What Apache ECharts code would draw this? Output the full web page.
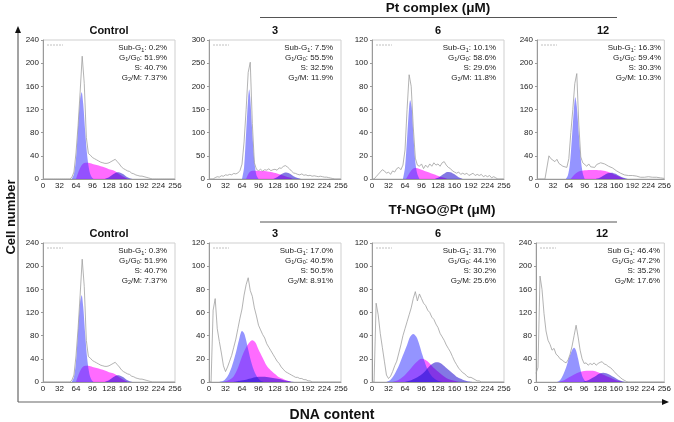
<!DOCTYPE html>
<html><head><meta charset="utf-8">
<script src="https://cdn.jsdelivr.net/npm/echarts@6/dist/echarts.min.js"></script>
<style>html,body{margin:0;padding:0;background:#fff}#c{width:674px;height:422px}</style>
</head><body><div id="c"></div>
<script>
// ---- data ----
const panelTitles = ['Control','3','6','12','Control','3','6','12'];
const subLabel = ['Sub-G','Sub-G','Sub-G','Sub-G','Sub-G','Sub-G','Sub-G','Sub G'];
const subG1 = ['0.2%','7.5%','10.1%','16.3%','0.3%','17.0%','31.7%','46.4%'];
const g1g0 = ['51.9%','55.5%','58.6%','59.4%','51.9%','40.5%','44.1%','47.2%'];
const sPhase = ['40.7%','32.5%','29.6%','30.3%','40.7%','50.5%','30.2%','35.2%'];
const g2m = ['7.37%','11.9%','11.8%','10.3%','7.37%','8.91%','25.6%','17.6%'];
const yMax = [240,300,120,240,240,120,120,240];
const yStep = [40,50,20,40,40,20,20,40];
const xTickStep = 32;
const binWidth = 4; // histogram channels 0..256

const hist1 = [0,0,0,0,0,0,0,0,0,0,0,0,0,0,3,12,45,92,150,212,165,72,44,41,37,35,33,31,29,28,27,27,28,30,32,34,30,26,21,18,16,14,13,10,9,7,6,5,5,4,3,2,1,0,0,0,0,0,0,0,0,0,0,0,0];
const hist2 = [0,0,0,3,5,4,7,6,9,8,10,9,12,11,13,18,32,80,150,230,252,120,35,21,18,21,17,20,19,22,18,20,21,19,24,23,27,29,26,22,17,13,12,10,9,11,8,9,7,8,6,7,6,5,6,5,4,4,3,2,1,0,0,0,0];
const hist3 = [0,0,2,4,6,8,7,5,6,4,7,6,9,10,8,12,25,60,90,80,45,18,12,11,13,9,12,10,13,11,14,12,13,11,14,15,12,10,9,7,6,5,6,4,5,4,5,3,4,5,3,4,3,4,2,3,2,3,1,2,1,0,0,0,0];
const hist4 = [0,0,0,0,0,0,40,35,38,30,34,27,28,22,24,20,35,80,120,165,182,95,38,28,25,22,26,21,24,20,25,23,28,30,26,27,22,24,19,17,14,12,10,9,7,8,6,5,6,4,5,4,3,4,3,3,4,2,3,2,3,2,2,1,1];
const hist5 = [0,0,0,0,0,0,0,0,0,0,0,0,0,0,3,12,45,92,150,212,165,72,44,41,37,35,33,31,29,28,27,27,28,30,32,34,30,26,21,18,16,14,13,10,9,7,6,5,5,4,3,2,1,0,0,0,0,0,0,0,0,0,0,0,0];
const hist6 = [0,0,62,72,46,35,25,14,9,13,18,23,30,37,46,55,63,75,84,90,79,74,64,57,49,45,41,38,33,30,27,24,21,18,16,13,11,9,8,7,6,5,4,4,3,3,2,2,1,1,0,0,0,0,0,0,0,0,0,0,0,0,0,0,0];
const hist7 = [0,0,68,58,42,30,18,6,3,5,9,14,18,25,32,40,46,52,58,64,72,78,70,76,72,68,66,62,60,56,54,50,47,42,39,36,32,29,26,22,18,15,12,10,8,7,5,4,4,3,2,1,1,0,0,0,0,0,0,0,0,0,0,0,0];
const hist8 = [15,25,183,160,118,88,72,65,55,58,48,45,40,38,35,33,38,48,62,80,98,78,55,40,32,33,29,32,30,33,29,32,34,35,31,30,27,25,22,18,14,11,8,5,3,1,0,0,0,0,0,0,0,0,0,0,0,0,0,0,0,0,0,0,0];

const g1_1 = [[56,0],[60,8],[64,35],[68,90],[72,138],[75,150],[78,130],[82,80],[86,38],[90,14],[94,4],[98,0]];
const s_1 = [[64,0],[70,15],[76,25],[82,28],[88,28],[96,26],[104,24],[112,22],[120,20],[128,17],[136,15],[144,11],[152,6],[158,3],[164,0]];
const g2_1 = [[120,0],[128,3],[136,8],[144,11.5],[150,11],[156,8],[162,4],[168,1.5],[174,0]];
const g1_2 = [[64,0],[68,25],[72,100],[76,175],[78,193],[80,175],[84,100],[88,38],[92,8],[96,0]];
const s_2 = [[72,0],[78,14],[84,18],[96,18],[108,17],[120,15],[132,12],[140,9],[148,6],[156,3],[162,0]];
const g2_2 = [[124,0],[132,4],[140,10],[148,14],[156,12],[164,6],[172,2],[178,0]];
const g1_3 = [[60,0],[64,10],[68,35],[72,62],[74,68],[77,62],[80,40],[84,15],[88,4],[92,0]];
const s_3 = [[66,0],[74,6],[80,9],[86,9.5],[96,8],[108,6],[120,4],[132,2],[140,1],[146,0]];
const g2_3 = [[122,0],[130,1.5],[138,4],[146,6],[152,5.8],[160,4],[168,1.5],[176,0]];
const g1_4 = [[58,0],[62,6],[66,25],[70,68],[74,118],[77,141],[80,125],[84,78],[88,35],[92,10],[96,0]];
const s_4 = [[68,0],[76,8],[84,13],[96,15],[112,15.5],[128,15],[140,13],[150,10],[160,6],[168,3],[176,0]];
const g2_4 = [[118,0],[126,2],[134,6],[142,10],[150,11],[158,9],[166,5],[174,2],[182,0]];
const g1_5 = [[56,0],[60,8],[64,35],[68,90],[72,138],[75,150],[78,130],[82,80],[86,38],[90,14],[94,4],[98,0]];
const s_5 = [[64,0],[70,15],[76,25],[82,28],[88,28],[96,26],[104,24],[112,22],[120,20],[128,17],[136,15],[144,11],[152,6],[158,3],[164,0]];
const g2_5 = [[120,0],[128,3],[136,8],[144,11.5],[150,11],[156,8],[162,4],[168,1.5],[174,0]];
const g1_6 = [[20,0],[28,1],[36,5],[44,13],[52,25],[58,36],[64,44],[68,42],[72,36],[76,28],[82,17],[88,9],[94,4],[100,1],[106,0]];
const s_6 = [[28,0],[40,2],[48,5],[56,12],[64,22],[72,30],[80,35],[84,36],[90,34],[96,28],[104,21],[112,14],[120,10],[128,7],[136,4],[144,2.5],[152,1],[160,0]];
const g2_6 = [[48,0],[60,1],[72,2],[84,3.5],[96,4.5],[104,4.6],[112,4.3],[124,3.5],[136,2.5],[148,1.2],[160,0.3],[168,0]];
const g1_7 = [[28,0],[36,2],[44,7],[52,14],[60,23],[68,32],[74,39],[80,41.5],[86,39],[92,32],[98,23],[104,15],[110,9],[116,5],[124,2],[132,0.5],[140,0]];
const s_7 = [[40,0],[52,2],[64,6],[76,12],[86,17],[96,20],[104,19],[112,16],[120,12],[128,9],[136,6],[144,3.5],[152,2],[160,1],[168,0]];
const g2_7 = [[64,0],[76,1.5],[88,4],[100,8],[110,13],[118,16],[126,17],[134,16],[142,13],[150,10],[158,7],[166,4],[176,2],[188,0.5],[198,0]];
const g1_8 = [[42,0],[48,3],[54,12],[60,25],[66,42],[72,55],[76,59],[80,54],[84,40],[88,24],[92,11],[96,4],[100,0]];
const s_8 = [[46,0],[56,3],[66,8],[76,13],[86,17],[96,19],[106,19.5],[116,19],[126,16],[136,12],[146,8],[156,4.5],[164,2],[172,0]];
const g2_8 = [[94,0],[104,3],[112,7],[120,11],[128,15],[134,16],[140,15],[148,12],[156,8],[164,4],[172,1.5],[180,0]];

const hists = [hist1,hist2,hist3,hist4,hist5,hist6,hist7,hist8];
const g1s = [g1_1,g1_2,g1_3,g1_4,g1_5,g1_6,g1_7,g1_8];
const ss = [s_1,s_2,s_3,s_4,s_5,s_6,s_7,s_8];
const g2s = [g2_1,g2_2,g2_3,g2_4,g2_5,g2_6,g2_7,g2_8];

// ---- layout ----
const FONT = 'Liberation Sans, Arial, Helvetica, sans-serif';
const lefts = [[43,209,372,537],[43,209,372,536]];
const tops = [40,243];
const W = 132, H = 139;

const grid = [], xAxis = [], yAxis = [], series = [], graphic = [];
const rich = {
  a:{fontSize:8, fontFamily:FONT, fill:'#222', lineHeight:10},
  s:{fontSize:5.5, fontFamily:FONT, fill:'#222', lineHeight:6, verticalAlign:'bottom'}
};
for (let i=0;i<8;i++){
  const row = i<4?0:1, col = i%4;
  const L = lefts[row][col], T = tops[row];
  grid.push({left:L, top:T, width:W, height:H, show:true, borderColor:'#cfcfcf', borderWidth:1, backgroundColor:'transparent'});
  xAxis.push({gridIndex:i, type:'value', min:0, max:256, interval:xTickStep,
    axisLine:{show:true, onZero:false, lineStyle:{color:'#9a9a9a', width:1}}, axisTick:{show:false}, splitLine:{show:false},
    axisLabel:{fontSize:8, color:'#222', margin:3, fontFamily:FONT}});
  yAxis.push({gridIndex:i, type:'value', min:0, max:yMax[i], interval:yStep[i],
    axisLine:{show:true, lineStyle:{color:'#9a9a9a', width:1}}, axisTick:{show:true, length:2, lineStyle:{color:'#9a9a9a'}}, splitLine:{show:false},
    axisLabel:{fontSize:8, color:'#222', margin:4, fontFamily:FONT}});
  const comp = (data, color, z) => ({type:'line', xAxisIndex:i, yAxisIndex:i, data, smooth:0.3, symbol:'none', silent:true, z,
    lineStyle:{width:0, color}, areaStyle:{color, opacity:1}});
  series.push(comp(ss[i], 'rgba(255,0,255,0.58)', 2));
  series.push(comp(g1s[i], 'rgba(60,60,255,0.55)', 3));
  series.push(comp(g2s[i], 'rgba(30,10,205,0.55)', 4));
  series.push({type:'line', xAxisIndex:i, yAxisIndex:i, data: hists[i].map((v,k)=>[k*binWidth, v]), symbol:'none', silent:true, z:5,
    lineStyle:{color:'#a0a0a0', width:0.8}});
  graphic.push({type:'text', x:L+W/2, y:T-9, style:{text:panelTitles[i], font:'bold 11px '+FONT, fill:'#111', align:'center', verticalAlign:'middle'}});
  const R = L+W-8;
  const lines = [
    '{a|'+subLabel[i]+'}{s|1}{a|: '+subG1[i]+'}',
    '{a|G}{s|1}{a|/G}{s|0}{a|: '+g1g0[i]+'}',
    '{a|S: '+sPhase[i]+'}',
    '{a|G}{s|2}{a|/M: '+g2m[i]+'}'
  ];
  lines.forEach((t,k)=>{
    graphic.push({type:'text', x:R, y:T+8+k*9.8, style:{text:t, rich, align:'right', verticalAlign:'middle', fill:'#222', font:'8px '+FONT}});
  });
  graphic.push({type:'line', shape:{x1:L+4, y1:T+5, x2:L+20, y2:T+5}, style:{stroke:'#b0b0b0', lineWidth:0.8, lineDash:[2,1]}});
}

graphic.push({type:'text', x:438, y:8, style:{text:'Pt complex (μM)', font:'bold 13.5px '+FONT, fill:'#111', align:'center', verticalAlign:'middle'}});
graphic.push({type:'line', shape:{x1:260, y1:17.5, x2:617, y2:17.5}, style:{stroke:'#555', lineWidth:1}});
graphic.push({type:'text', x:442, y:210, style:{text:'Tf-NGO@Pt (μM)', font:'bold 13.5px '+FONT, fill:'#111', align:'center', verticalAlign:'middle'}});
graphic.push({type:'line', shape:{x1:260, y1:222, x2:617, y2:222}, style:{stroke:'#555', lineWidth:1}});
graphic.push({type:'line', shape:{x1:18, y1:402, x2:18, y2:31}, style:{stroke:'#666', lineWidth:1.2}});
graphic.push({type:'line', shape:{x1:18, y1:402, x2:663, y2:402}, style:{stroke:'#666', lineWidth:1.2}});
graphic.push({type:'polygon', shape:{points:[[15,33],[21,33],[18,26]]}, style:{fill:'#111'}});
graphic.push({type:'polygon', shape:{points:[[662,399],[662,405],[669,402]]}, style:{fill:'#111'}});
graphic.push({type:'text', x:11, y:217, rotation:Math.PI/2, style:{text:'Cell number', font:'bold 13px '+FONT, fill:'#111', align:'center', verticalAlign:'middle'}});
graphic.push({type:'text', x:332, y:415, style:{text:'DNA content', font:'bold 14px '+FONT, fill:'#111', align:'center', verticalAlign:'middle'}});

const chart = echarts.init(document.getElementById('c'), null, {renderer:'canvas'});
chart.setOption({animation:false, backgroundColor:'#fff', grid, xAxis, yAxis, series, graphic});
</script></body></html>
